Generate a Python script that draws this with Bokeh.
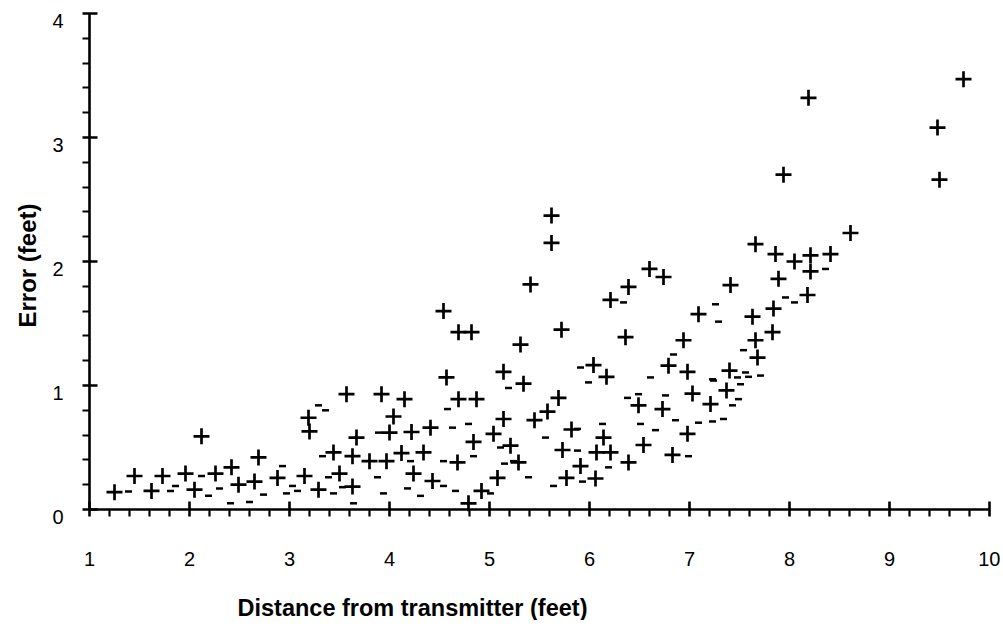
import math
from bokeh.plotting import figure
from bokeh.models import Range1d, FixedTicker, Label, LabelSet, ColumnDataSource
from bokeh.core.properties import value
from bokeh.embed import file_html
from bokeh.resources import INLINE

# ---- data ----
x_ticks = [1, 2, 3, 4, 5, 6, 7, 8, 9, 10]
y_ticks = [0, 1, 2, 3, 4]
y_tick_labels = ["0", "1", "2", "3", "4"]

plus_x = [1.25, 1.45, 1.62, 1.73, 1.96, 2.05, 2.12, 2.26, 2.42, 2.49, 2.65, 2.69, 2.88,
          3.15, 3.19, 3.20, 3.29, 3.44, 3.50, 3.57, 3.63, 3.63, 3.67, 3.80, 3.92, 3.97,
          4.00, 4.04, 4.12, 4.15, 4.22, 4.24, 4.34, 4.41, 4.43, 4.54, 4.57, 4.68, 4.69,
          4.69, 4.79, 4.82, 4.84, 4.87, 4.92, 5.04, 5.08, 5.14, 5.14, 5.21, 5.29, 5.31,
          5.34, 5.41, 5.45, 5.58, 5.62, 5.62, 5.69, 5.72, 5.73, 5.77, 5.82, 5.91, 6.04,
          6.06, 6.07, 6.14, 6.17, 6.21, 6.21, 6.36, 6.39, 6.39, 6.49, 6.54, 6.60, 6.73,
          6.74, 6.79, 6.83, 6.94, 6.98, 6.98, 7.03, 7.09, 7.21, 7.37, 7.40, 7.41, 7.63,
          7.66, 7.66, 7.68, 7.83, 7.84, 7.86, 7.89, 7.94, 8.05, 8.18, 8.19, 8.21, 8.21,
          8.41, 8.61, 9.48, 9.50, 9.74]
plus_y = [0.14, 0.27, 0.15, 0.27, 0.29, 0.16, 0.59, 0.29, 0.34, 0.20, 0.225, 0.42, 0.255,
          0.27, 0.74, 0.63, 0.16, 0.46, 0.29, 0.93, 0.43, 0.185, 0.58, 0.39, 0.93, 0.39,
          0.62, 0.75, 0.455, 0.89, 0.625, 0.29, 0.46, 0.66, 0.23, 1.60, 1.065, 0.38, 1.43,
          0.89, 0.05, 1.43, 0.545, 0.89, 0.15, 0.61, 0.255, 0.73, 1.11, 0.515, 0.38, 1.33,
          1.015, 1.815, 0.72, 0.79, 2.37, 2.15, 0.90, 1.45, 0.48, 0.255, 0.645, 0.35, 1.165,
          0.25, 0.46, 0.58, 1.07, 0.46, 1.69, 1.39, 0.38, 1.795, 0.84, 0.52, 1.94, 0.81,
          1.875, 1.16, 0.44, 1.365, 0.61, 1.11, 0.935, 1.575, 0.85, 0.96, 1.12, 1.81, 1.555,
          1.365, 2.14, 1.225, 1.43, 1.62, 2.06, 1.86, 2.70, 2.00, 1.73, 3.32, 1.92, 2.05,
          2.06, 2.23, 3.08, 2.66, 3.47]

# partially printed marks (fragments of markers in the reference)
frag_x = [2.12, 2.30, 2.41, 2.60, 2.74, 1.39, 1.81, 1.86, 2.19, 2.93, 3.03, 2.97, 3.08,
          3.33, 3.39, 3.44, 3.29, 3.36, 3.53, 3.89, 3.88, 3.94, 4.18, 4.21, 4.31, 3.64,
          4.54, 4.66, 4.58, 4.79, 4.63, 5.39, 5.56, 5.88, 5.64, 6.13, 6.51, 6.49, 5.19,
          4.54, 4.84, 5.11, 5.24, 5.01, 6.99, 6.86, 6.66, 7.09, 7.23, 7.34, 7.43, 7.49,
          6.19, 5.93, 5.88, 6.61, 6.76, 5.99, 5.91, 6.84, 7.26, 7.29, 7.23, 7.71, 8.36,
          8.05, 7.48, 7.59, 7.54, 7.56, 7.51, 7.24, 7.96, 6.34, 6.38, 5.15]
frag_y = [0.27, 0.17, 0.05, 0.06, 0.12, 0.145, 0.15, 0.19, 0.11, 0.35, 0.19, 0.13, 0.15,
          0.43, 0.26, 0.13, 0.84, 0.80, 0.18, 0.62, 0.26, 0.13, 0.17, 0.39, 0.11, 0.05,
          0.39, 0.15, 0.81, 0.69, 0.66, 0.26, 0.58, 0.475, 0.19, 0.69, 0.69, 0.93, 0.98,
          0.19, 0.43, 0.50, 0.39, 0.13, 0.43, 0.72, 0.64, 0.70, 0.71, 0.73, 0.84, 0.89,
          0.34, 0.225, 0.65, 1.065, 0.92, 1.025, 1.145, 1.25, 1.655, 1.515, 1.05, 1.08, 1.94,
          1.67, 1.065, 1.07, 1.285, 1.105, 1.01, 1.04, 1.71, 1.67, 0.90, 0.37]

x_title = "Distance from transmitter (feet)"
y_title = "Error (feet)"

FONT = "Liberation Sans"

# layout constants (pixels)
W, H = 1000, 620
PX_PER_X, PX_PER_Y = 100.0, 124.0
X1_PIX, Y0_PIX = 89, 509          # pixel position of x=1 and y=0
x_start = 1 - X1_PIX / PX_PER_X
x_end = 1 + (W - X1_PIX) / PX_PER_X
y_start = -(H - Y0_PIX) / PX_PER_Y
y_end = Y0_PIX / PX_PER_Y

p = figure(width=W, height=H, output_backend="svg", toolbar_location=None,
           x_range=Range1d(x_start, x_end), y_range=Range1d(y_start, y_end),
           min_border_left=0, min_border_right=0, min_border_top=0,
           min_border_bottom=0)
p.outline_line_color = None
p.xgrid.grid_line_color = None
p.ygrid.grid_line_color = None
p.background_fill_color = "white"
p.border_fill_color = "white"

minor_x = [round(1 + 0.2 * i, 2) for i in range(46) if i % 5 != 0]
minor_y = [round(0.2 * i, 2) for i in range(21) if i % 5 != 0]
p.xaxis.ticker = FixedTicker(ticks=x_ticks, minor_ticks=minor_x)
p.yaxis.ticker = FixedTicker(ticks=y_ticks, minor_ticks=minor_y)
p.xaxis.fixed_location = 0
p.yaxis.fixed_location = 1
p.xaxis.bounds = (1, 10)
p.yaxis.bounds = (0, 4)

for ax in (p.xaxis, p.yaxis):
    ax.axis_line_width = 2.6
    ax.axis_line_color = "black"
    ax.major_tick_line_width = 2.6
    ax.minor_tick_line_width = 2.2
    ax.major_tick_line_color = "black"
    ax.minor_tick_line_color = "black"
    ax.major_tick_in = 8
    ax.major_tick_out = 7
    ax.minor_tick_in = 0
    ax.minor_tick_out = 7
    ax.major_label_text_font = FONT
    ax.major_label_text_font_size = "20px"
    ax.major_label_text_color = "black"

p.xaxis.major_label_standoff = 35
# y tick labels are drawn below with a LabelSet (they sit slightly under their ticks)
p.yaxis.major_label_overrides = {v: "" for v in y_ticks}

ysrc = ColumnDataSource(dict(x=[1] * len(y_ticks), y=y_ticks, t=y_tick_labels))
p.add_layout(LabelSet(x="x", y="y", text="t", source=ysrc, x_offset=-26, y_offset=-7,
                      text_align="right", text_baseline="middle",
                      text_font=value(FONT), text_font_size=value("20px"),
                      text_color="black"))

# axis titles
p.add_layout(Label(x=1, x_offset=-(X1_PIX - 27), y=(Y0_PIX - 265) / PX_PER_Y,
                   text=y_title, angle=math.pi / 2,
                   text_align="center", text_baseline="middle",
                   text_font=FONT, text_font_size="24px", text_font_style="bold",
                   text_color="black"))
p.add_layout(Label(x=2.48, y=-(607 - Y0_PIX) / PX_PER_Y, text=x_title,
                   text_align="left", text_baseline="middle",
                   text_font=FONT, text_font_size="23.5px", text_font_style="bold",
                   text_color="black"))

p.scatter(frag_x, frag_y, marker="dash", size=7, line_width=2.5, line_color="black")
p.scatter(plus_x, plus_y, marker="cross", size=16, line_width=2.7, line_color="black")

open("out.html", "w").write(file_html(p, INLINE))
